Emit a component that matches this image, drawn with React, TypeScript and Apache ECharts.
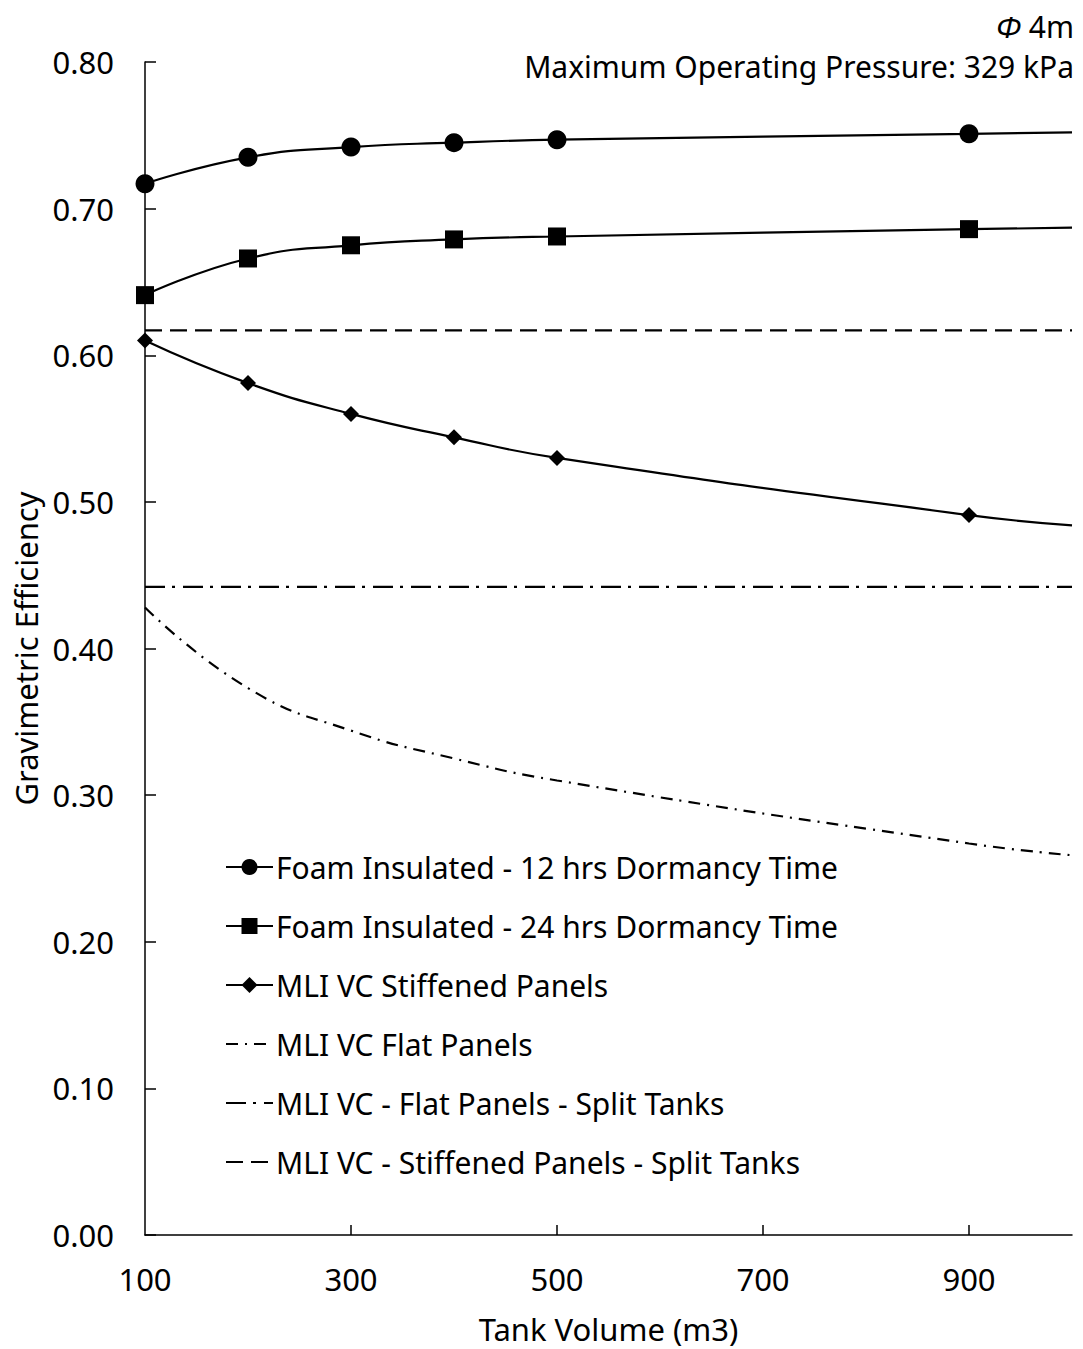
import React, { useEffect, useRef } from "react";
import * as echarts from "echarts";

// Tank volume (m3) sample points; the last point carries the curve to the axis end without a marker
const volumes = [100, 200, 300, 400, 500, 900, 1000];
const markerCount = 6;

const foam12 = [0.717, 0.735, 0.742, 0.745, 0.747, 0.751, 0.752];
const foam24 = [0.641, 0.666, 0.675, 0.679, 0.681, 0.686, 0.687];
const mliStiffened = [0.61, 0.581, 0.56, 0.544, 0.53, 0.491, 0.484];
const mliFlat = [0.428, 0.373, 0.344, 0.325, 0.31, 0.267, 0.259];

// Split-tank configurations are constant across tank volume
const splitRange = [100, 1000];
const mliFlatSplit = 0.442;
const mliStiffenedSplit = 0.617;

const yTicks = [0, 0.1, 0.2, 0.3, 0.4, 0.5, 0.6, 0.7, 0.8];
const xLabels = [100, 300, 500, 700, 900];
const xTicks = [300, 500, 700, 900];

const seriesNames = [
  "Foam Insulated - 12 hrs Dormancy Time",
  "Foam Insulated - 24 hrs Dormancy Time",
  "MLI VC Stiffened Panels",
  "MLI VC Flat Panels",
  "MLI VC - Flat Panels - Split Tanks",
  "MLI VC - Stiffened Panels - Split Tanks",
];

const FONT = "Noto Sans";
const INK = "#000";
const TEXT_SIZE = 30;
const AXIS_SIZE = 31;
const SMOOTH = 0.5;

function withMarkers(values: number[]) {
  return volumes.map((v, i) =>
    i < markerCount ? [v, values[i]] : { value: [v, values[i]], symbol: "none" }
  );
}

export default function App() {
  const ref = useRef<HTMLDivElement>(null);

  useEffect(() => {
    if (!ref.current) return;
    const chart = echarts.init(ref.current, null, { renderer: "svg" });

    const solid = { color: INK, width: 2.2, type: "solid" as const };

    chart.setOption({
      animation: false,
      backgroundColor: "#fff",
      textStyle: { fontFamily: FONT, color: INK },
      title: [
        {
          text: "{i|Φ} 4m",
          right: 4,
          top: 6,
          textStyle: {
            fontFamily: FONT,
            fontSize: TEXT_SIZE,
            fontWeight: "normal",
            color: INK,
            rich: {
              i: { fontFamily: FONT, fontSize: TEXT_SIZE, fontStyle: "italic", color: INK },
            },
          },
        },
        {
          text: "Maximum Operating Pressure: 329 kPa",
          right: 4,
          top: 46,
          textStyle: { fontFamily: FONT, fontSize: TEXT_SIZE, fontWeight: "normal", color: INK },
        },
      ],
      grid: { left: 145, right: 11, top: 62, bottom: 114, containLabel: false },
      legend: {
        orient: "vertical",
        left: 220,
        top: 846,
        itemWidth: 47,
        itemHeight: 20,
        itemGap: 27,
        textStyle: {
          fontFamily: FONT,
          fontSize: TEXT_SIZE,
          color: INK,
          lineHeight: 32,
          padding: [0, 0, 0, -2],
        },
        data: [
          { name: seriesNames[0] },
          { name: seriesNames[1] },
          { name: seriesNames[2] },
          { name: seriesNames[3], itemStyle: { opacity: 0 } },
          { name: seriesNames[4], itemStyle: { opacity: 0 } },
          { name: seriesNames[5], itemStyle: { opacity: 0 } },
        ],
      },
      xAxis: {
        type: "value",
        min: splitRange[0],
        max: splitRange[1],
        name: "Tank Volume (m3)",
        nameLocation: "middle",
        nameGap: 78,
        nameTextStyle: { fontFamily: FONT, fontSize: AXIS_SIZE, color: INK },
        axisLine: { show: true, lineStyle: { color: INK, width: 1.5 } },
        axisTick: {
          show: true,
          inside: true,
          length: 10,
          customValues: xTicks,
          lineStyle: { color: INK, width: 1.5 },
        },
        axisLabel: { customValues: xLabels, fontFamily: FONT, fontSize: AXIS_SIZE, color: INK, margin: 28 },
        splitLine: { show: false },
      },
      yAxis: {
        type: "value",
        min: yTicks[0],
        max: yTicks[yTicks.length - 1],
        interval: 0.1,
        name: "Gravimetric Efficiency",
        nameLocation: "middle",
        nameGap: 104,
        nameTextStyle: { fontFamily: FONT, fontSize: AXIS_SIZE, color: INK },
        axisLine: { show: true, lineStyle: { color: INK, width: 1.5 } },
        axisTick: { show: true, inside: true, length: 11, lineStyle: { color: INK, width: 1.5 } },
        axisLabel: {
          fontFamily: FONT,
          fontSize: AXIS_SIZE,
          color: INK,
          margin: 31,
          formatter: (v: number) => v.toFixed(2),
        },
        splitLine: { show: false },
      },
      series: [
        {
          name: seriesNames[0],
          type: "line",
          smooth: SMOOTH,
          data: withMarkers(foam12),
          symbol: "circle",
          symbolSize: 19,
          itemStyle: { color: INK },
          lineStyle: solid,
          z: 5,
        },
        {
          name: seriesNames[1],
          type: "line",
          smooth: SMOOTH,
          data: withMarkers(foam24),
          symbol: "rect",
          symbolSize: 18,
          itemStyle: { color: INK },
          lineStyle: solid,
          z: 5,
        },
        {
          name: seriesNames[2],
          type: "line",
          smooth: SMOOTH,
          data: withMarkers(mliStiffened),
          symbol: "diamond",
          symbolSize: 16,
          itemStyle: { color: INK },
          lineStyle: solid,
          z: 5,
        },
        {
          name: seriesNames[3],
          type: "line",
          smooth: SMOOTH,
          data: volumes.map((v, i) => [v, mliFlat[i]]),
          symbol: "none",
          itemStyle: { color: INK },
          lineStyle: { color: INK, width: 2.2, type: [12, 7, 2, 7] },
        },
        {
          name: seriesNames[4],
          type: "line",
          data: splitRange.map((v) => [v, mliFlatSplit]),
          symbol: "none",
          itemStyle: { color: INK },
          lineStyle: { color: INK, width: 2.2, type: [20, 7, 3, 8] },
        },
        {
          name: seriesNames[5],
          type: "line",
          data: splitRange.map((v) => [v, mliStiffenedSplit]),
          symbol: "none",
          itemStyle: { color: INK },
          lineStyle: { color: INK, width: 2.2, type: [17, 8] },
        },
      ],
    });

    return () => chart.dispose();
  }, []);

  return (
    <div
      ref={ref}
      style={{ position: "fixed", left: 0, top: 0, width: 1083, height: 1349, background: "#fff" }}
    />
  );
}
